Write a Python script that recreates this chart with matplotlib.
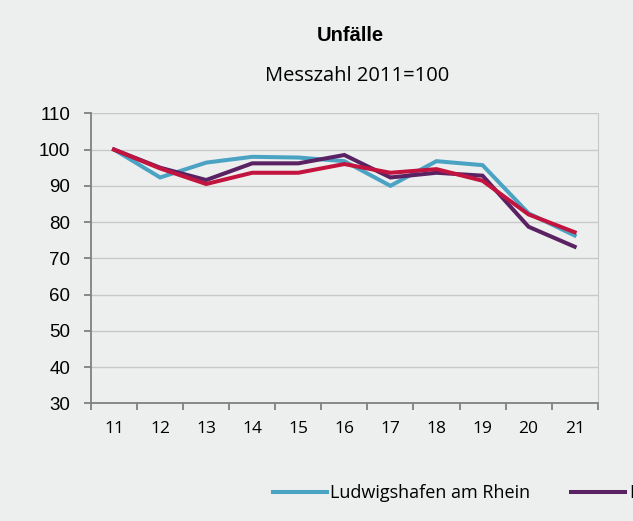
import matplotlib.pyplot as plt

# Messzahl 2011=100
jahre = ['11', '12', '13', '14', '15', '16', '17', '18', '19', '20', '21']
ludwigshafen = [100, 92.3, 96.4, 98.0, 97.8, 96.8, 90.0, 96.8, 95.7, 82.4, 76.3]
rheinland_pfalz = [100, 95.0, 91.6, 96.2, 96.2, 98.5, 92.3, 93.6, 92.8, 78.7, 73.2]
deutschland = [100, 94.8, 90.5, 93.6, 93.6, 96.0, 93.6, 94.6, 91.4, 82.1, 77.2]

labels = ['Ludwigshafen am Rhein', 'Rheinland-Pfalz', 'Deutschland']
colors = ['#4BA3C4', '#5B2263', '#C3143F']
bg = '#EDEFEE'

fig = plt.figure(figsize=(6.33, 5.21), dpi=100, facecolor=bg)
ax = fig.add_axes([0.1438, 0.2259, 0.8004, 0.5566], facecolor=bg)

x = list(range(len(jahre)))
for series, lab, col in zip([ludwigshafen, rheinland_pfalz, deutschland], labels, colors):
    ax.plot(x, series, color=col, lw=2.9, label=lab, solid_joinstyle='miter')

ax.set_xlim(-0.5, len(jahre) - 0.5)
ax.set_ylim(30, 110)
ax.set_yticks(range(30, 111, 10))
ax.set_xticks(x)
ax.set_xticklabels(jahre, fontfamily='Open Sans', fontsize=12.5)
ax.set_xticks([i - 0.5 for i in range(len(jahre) + 1)], minor=True)
ax.tick_params(axis='x', which='major', length=0, pad=13)
ax.tick_params(axis='x', which='minor', length=5, color='#808080', width=1.3)
ax.tick_params(axis='y', length=5, color='#808080', width=1.3, pad=10)
for t in ax.get_yticklabels():
    t.set_fontfamily('Liberation Sans')
    t.set_fontsize(13.5)

ax.grid(axis='y', color='#C8C8C8', lw=1)
ax.set_axisbelow(True)
for s in ['left', 'bottom']:
    ax.spines[s].set_color('#808080')
    ax.spines[s].set_linewidth(1.3)
ax.spines['top'].set_visible(False)
ax.spines['right'].set_color('#C8C8C8')

fig.text(0.553, 0.931, 'Unfälle', ha='center', va='center', fontsize=14.5,
         fontweight='bold', fontfamily='Liberation Sans')
fig.text(0.564, 0.854, 'Messzahl 2011=100', ha='center', va='center', fontsize=14.5,
         fontfamily='Open Sans')

fig.legend(loc='center left', bbox_to_anchor=(0.405, 0.054), ncol=3, frameon=False,
           handlelength=3.0, handletextpad=0.2, columnspacing=2.25,
           prop={'family': 'Open Sans', 'size': 13})

plt.savefig('out.png', dpi=100, facecolor=bg)
